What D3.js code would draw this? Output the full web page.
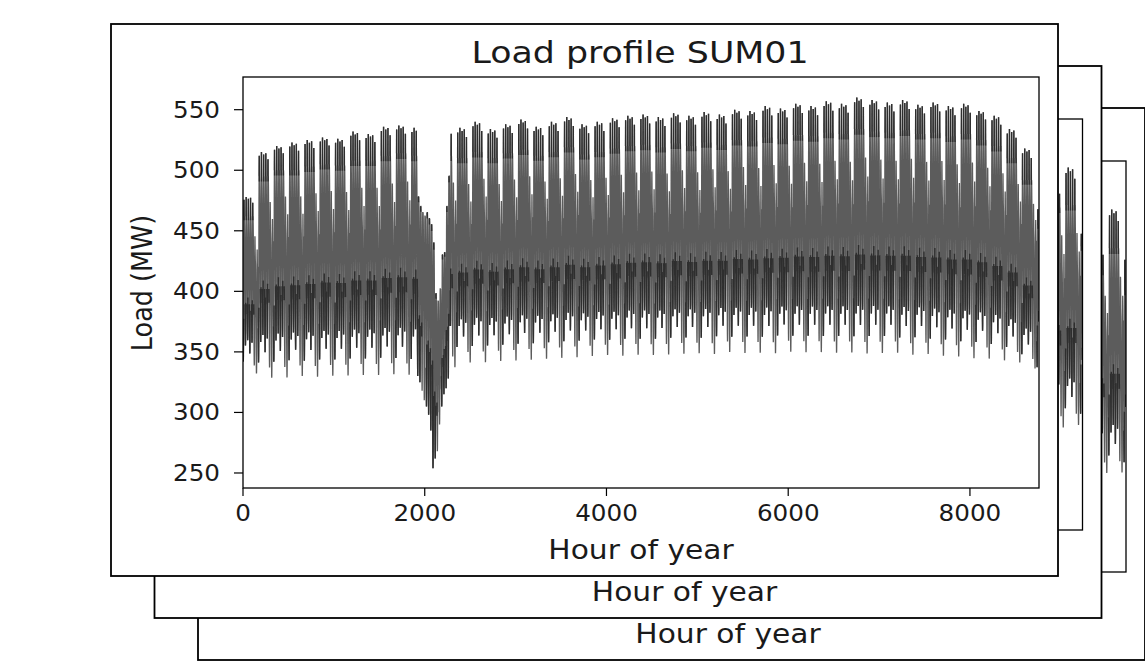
<!DOCTYPE html>
<html>
<head>
    <meta charset="utf-8">
    <style>
        html, body {
            margin: 0;
            padding: 0;
            background: #fff;
        }

        svg text {
            font-family: "DejaVu Sans", sans-serif;
            fill: #1a1a1a;
        }
    </style>
</head>
<body>
<svg id="chart" width="1145" height="667"></svg>

<script src="https://cdn.jsdelivr.net/npm/d3@7/dist/d3.min.js"></script>
<script>
    "use strict";

    // ---- data ----
    const xTicks = [0, 2000, 4000, 6000, 8000];
    const yTicks = [250, 300, 350, 400, 450, 500, 550];

    // SUM01, one value per week (week 0 .. 52)
    const weekSpike = [478, 515, 520, 523, 525, 527, 526, 532, 530, 536, 537, 535, 452,
        538, 535, 540, 534, 538, 542, 536, 540, 544, 538, 540, 543, 545, 546, 544, 547,
        545, 548, 546, 550, 549, 553, 551, 555, 553, 557, 555, 560, 558, 556, 558, 554,
        556, 553, 555, 549, 545, 534, 518, 470];
    const weekHigh = [462, 495, 500, 500, 503, 505, 504, 508, 508, 512, 514, 512, 440,
        512, 510, 515, 510, 514, 517, 512, 515, 519, 513, 515, 518, 520, 521, 519, 522,
        520, 523, 521, 525, 524, 527, 526, 529, 528, 531, 530, 534, 532, 531, 533, 530,
        531, 528, 530, 525, 520, 510, 492, 455];
    const weekLow = [352, 354, 355, 356, 356, 357, 357, 358, 358, 359, 359, 358, 300,
        364, 367, 368, 368, 369, 370, 370, 371, 372, 372, 373, 373, 374, 374, 374, 375,
        375, 375, 376, 376, 376, 376, 377, 377, 377, 377, 377, 377, 377, 377, 376, 376,
        375, 374, 373, 372, 370, 367, 360, 347];

    // the drop around hour 2100, one value per day from day 80
    const dipFirstDay = 80;
    const dipLow = [330, 325, 318, 310, 305, 298, 285, 254, 262, 268, 290, 305, 315, 320, 328];
    const dipHigh = [478, 470, 465, 462, 465, 460, 455, 440, 398, 392, 402, 430, 432, 470, 495];

    // day shape as fraction between night low and day plateau
    const weekdayShape = [0.20, 0.12, 0.05, 0.00, 0.03, 0.12, 0.32, 0.62, 0.86, 0.96, 1.00, 1.00,
        0.97, 0.99, 1.00, 0.98, 0.94, 0.88, 0.80, 0.68, 0.55, 0.44, 0.34, 0.26];
    const saturdayShape = [0.18, 0.08, 0.00, -0.08, -0.12, -0.10, -0.02, 0.18, 0.45, 0.65, 0.78, 0.85,
        0.84, 0.78, 0.72, 0.68, 0.66, 0.64, 0.60, 0.52, 0.42, 0.32, 0.24, 0.16];
    const sundayShape = [0.08, 0.00, -0.08, -0.14, -0.18, -0.17, -0.12, -0.02, 0.18, 0.40, 0.58, 0.70,
        0.75, 0.70, 0.62, 0.58, 0.58, 0.60, 0.62, 0.54, 0.42, 0.32, 0.24, 0.18];
    // weekday night level shift, Mon .. Fri
    const nightShift = [-0.09, 0.03, 0.07, -0.03, 0.05];
    const spikeHour = 11;
    const peakScale = [0.85, 1.0, 0.9, 0.95, 0.7];

    // back cards, only their last weeks show (weeks 50 .. 52)
    const sum02Spike = [520, 537, 484];
    const sum02High = [504, 506, 472];
    const sum02Low = [350, 352, 345];
    const sum03Spike = [505, 537, 500];
    const sum03High = [487, 505, 470];
    const sum03Low = [345, 348, 340];

    // ---- layout ----
    const CARD = {w: 947, h: 552};
    const PLOT = {left: 132, top: 53, width: 796, height: 411};
    const STEP = {x: 43.5, y: 42};
    const FRONT = {x: 111, y: 24};

    function buildSeries(spike, high, low, firstWeek, withDip) {
        const pts = [];
        for (let d = firstWeek * 7; d < 365; d++) {
            const w = Math.floor(d / 7) - firstWeek;
            const dow = d % 7;
            const di = d - dipFirstDay;
            for (let h = 0; h < 24; h++) {
                let v;
                if (withDip && di >= 0 && di < dipLow.length) {
                    v = dipLow[di] + Math.min(weekdayShape[h], 1) * (dipHigh[di] - dipLow[di]);
                } else if (dow < 5) {
                    if (h === spikeHour) {
                        v = high[w] + (spike[w] - high[w]) * peakScale[dow];
                    } else {
                        const f = weekdayShape[h] + (h < 7 ? nightShift[dow] : 0);
                        v = low[w] + f * (high[w] - low[w]);
                    }
                } else {
                    const shape = dow === 5 ? saturdayShape : sundayShape;
                    v = low[w] + shape[h] * (high[w] - low[w]);
                }
                pts.push({t: d * 24 + h, v: v, h: h, dow: dow});
            }
        }
        return pts;
    }

    // weekday nights and the midday spikes come out darker in the original
    function isDark(d) {
        if (d.dow >= 5) return false;
        return d.h >= 22 || d.h <= 6 || (d.h >= 10 && d.h <= 12);
    }

    const svg = d3.select("#chart");

    const defs = svg.append("defs");
    defs.append("filter")
        .attr("id", "smear")
        .attr("x", "-2%").attr("y", "-2%")
        .attr("width", "104%").attr("height", "104%")
        .append("feGaussianBlur")
        .attr("stdDeviation", "0.6 0.15");

    function stretchText(g, x, y, str, size, anchor, sx, rotate) {
        g.append("text")
            .attr("transform", "translate(" + x + "," + y + ") scale(" + sx + ",1)" + (rotate ? " rotate(-90)" : ""))
            .attr("text-anchor", anchor)
            .style("font-size", size + "px")
            .text(str);
    }

    function drawCard(idx, title, series) {
        const ox = FRONT.x + STEP.x * idx;
        const oy = FRONT.y + STEP.y * idx;
        const g = svg.append("g").attr("transform", "translate(" + ox + "," + oy + ")");

        g.append("rect")
            .attr("x", 0).attr("y", 0)
            .attr("width", CARD.w).attr("height", CARD.h)
            .attr("fill", "#fff")
            .attr("stroke", "#000")
            .attr("stroke-width", 1.8);

        const x = d3.scaleLinear().domain([0, 8760]).range([PLOT.left, PLOT.left + PLOT.width]);
        const y = d3.scaleLinear().domain([237.6, 577]).range([PLOT.top + PLOT.height, PLOT.top]);

        const clipId = "clip" + idx;
        g.append("clipPath").attr("id", clipId)
            .append("rect")
            .attr("x", PLOT.left).attr("y", PLOT.top)
            .attr("width", PLOT.width).attr("height", PLOT.height);

        const line = d3.line()
            .x(function (d) { return x(d.t); })
            .y(function (d) { return y(d.v); });

        const plot = g.append("g").attr("clip-path", "url(#" + clipId + ")");

        plot.append("path")
            .datum(series)
            .attr("filter", "url(#smear)")
            .attr("fill", "none")
            .attr("stroke", "#5c5c5c")
            .attr("stroke-width", 1.3)
            .attr("d", line);

        plot.append("path")
            .datum(series)
            .attr("filter", "url(#smear)")
            .attr("fill", "none")
            .attr("stroke", "#2e2e2e")
            .attr("stroke-width", 1.4)
            .attr("d", line.defined(isDark));

        g.append("rect")
            .attr("x", PLOT.left).attr("y", PLOT.top)
            .attr("width", PLOT.width).attr("height", PLOT.height)
            .attr("fill", "none")
            .attr("stroke", "#000")
            .attr("stroke-width", 1.3);

        // x axis
        const xAxis = g.append("g");
        xTicks.forEach(function (t) {
            xAxis.append("line")
                .attr("x1", x(t)).attr("x2", x(t))
                .attr("y1", PLOT.top + PLOT.height).attr("y2", PLOT.top + PLOT.height + 8)
                .attr("stroke", "#000").attr("stroke-width", 1.2);
            stretchText(xAxis, x(t), PLOT.top + PLOT.height + 33, t, 22.4, "middle", 1.1);
        });

        // y axis
        const yAxis = g.append("g");
        yTicks.forEach(function (t) {
            yAxis.append("line")
                .attr("x1", PLOT.left - 9).attr("x2", PLOT.left)
                .attr("y1", y(t)).attr("y2", y(t))
                .attr("stroke", "#000").attr("stroke-width", 1.2);
            stretchText(yAxis, PLOT.left - 23, y(t) + 8, t, 22.4, "end", 1.1);
        });

        stretchText(g, PLOT.left + PLOT.width / 2 - 1, 39, title, 30, "middle", 1.16);
        stretchText(g, 41, PLOT.top + 206, "Load (MW)", 25.5, "middle", 1.1, true);
        stretchText(g, PLOT.left + PLOT.width / 2, 534.5, "Hour of year", 27, "middle", 1.1);
    }

    // back to front, each card covers most of the one behind it
    drawCard(2, "Load profile SUM03", buildSeries(sum03Spike, sum03High, sum03Low, 50, false));
    drawCard(1, "Load profile SUM02", buildSeries(sum02Spike, sum02High, sum02Low, 50, false));
    drawCard(0, "Load profile SUM01", buildSeries(weekSpike, weekHigh, weekLow, 0, true));
</script>
</body>
</html>
